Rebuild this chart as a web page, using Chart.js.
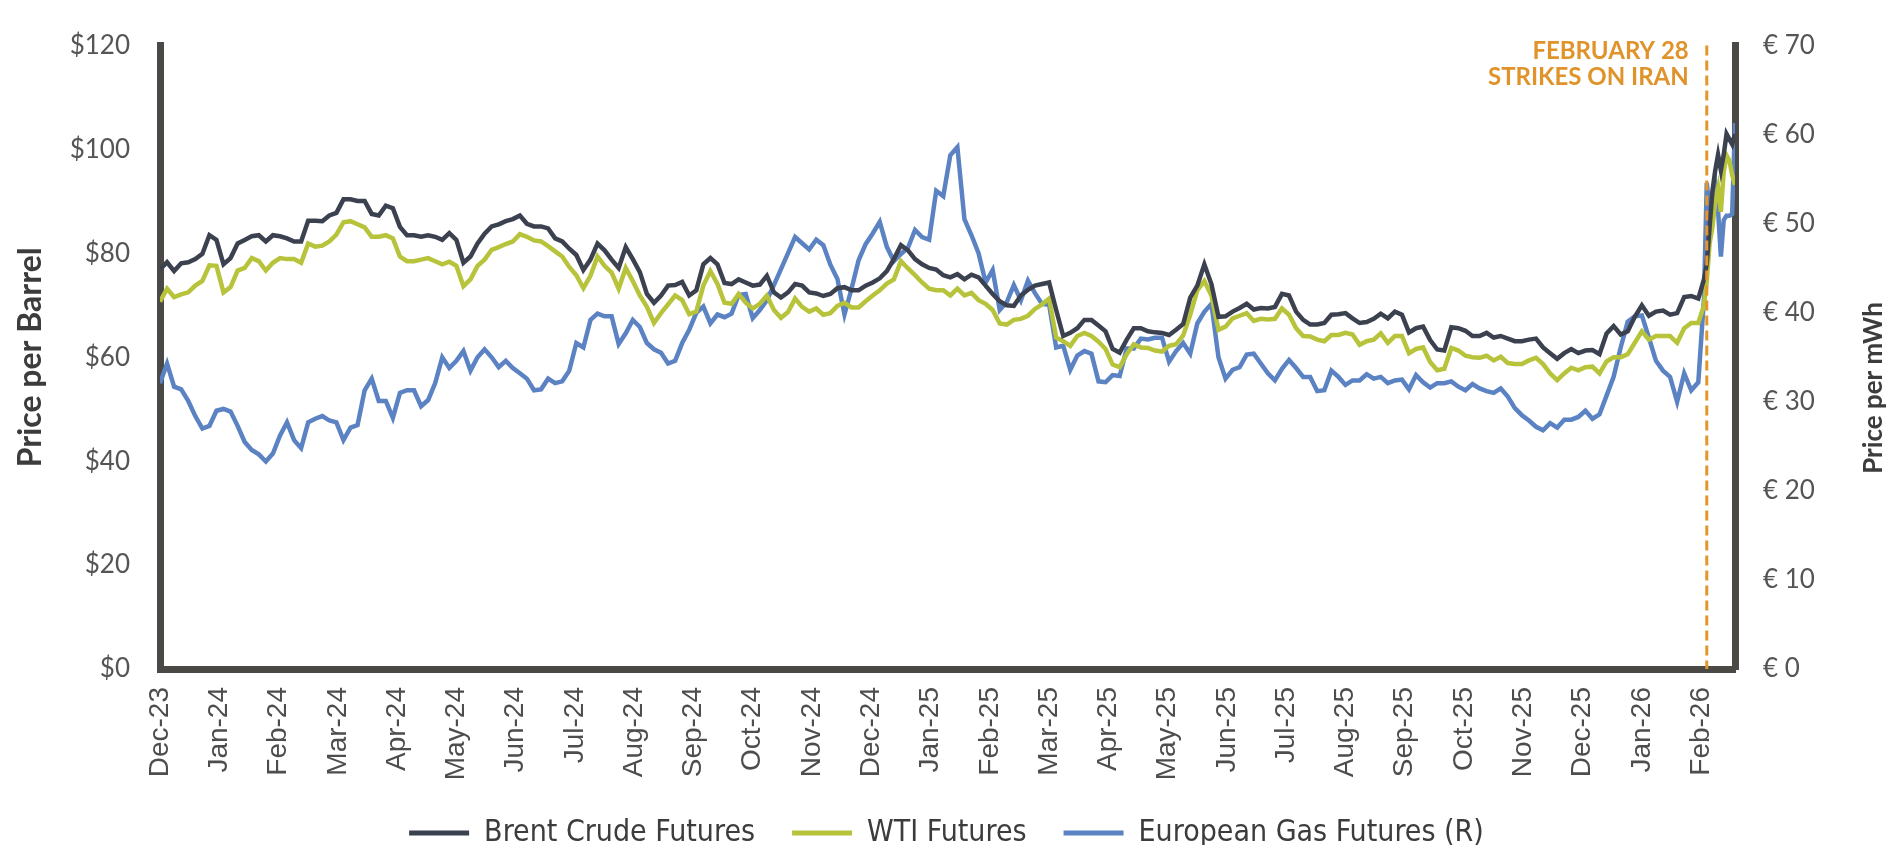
<!DOCTYPE html>
<html>
<head>
<meta charset="utf-8">
<script src="https://cdn.jsdelivr.net/npm/chart.js@4.4.1/dist/chart.umd.min.js"></script>
<style>
  html, body { margin: 0; padding: 0; background: #fff; }
  #wrap { width: 1893px; height: 845px; }
</style>
</head>
<body>
<div id="wrap"><canvas id="energyChart" width="1893" height="845"></canvas></div>
<script>
// x = trading day counted from the first sample (late Dec 2023): half-week samples, then daily at the end
const sampleDays = [];
for (let d = 0; d <= 545; d += 2.5) sampleDays.push(d);
const tailDays = [547, 548, 549, 550, 551, 552, 553, 554, 555, 556, 557, 558];
tailDays.forEach(d => sampleDays.push(d));

// one axis label every 21 trading days
const tickEvery = 21;
const tickLabels = ['Dec-23', 'Jan-24', 'Feb-24', 'Mar-24', 'Apr-24', 'May-24', 'Jun-24', 'Jul-24', 'Aug-24',
  'Sep-24', 'Oct-24', 'Nov-24', 'Dec-24', 'Jan-25', 'Feb-25', 'Mar-25', 'Apr-25', 'May-25', 'Jun-25',
  'Jul-25', 'Aug-25', 'Sep-25', 'Oct-25', 'Nov-25', 'Dec-25', 'Jan-26', 'Feb-26'];

// $ per barrel
const brent = [
  76.9, 78.3, 76.6, 78.1, 78.3, 78.9, 79.9, 83.5, 82.6, 77.9, 79.1, 81.9, 82.6, 83.3, 83.5, 82.3, 83.5, 83.3, 82.9, 82.3,
  82.3, 86.3, 86.3, 86.2, 87.3, 87.8, 90.4, 90.4, 90.1, 90.1, 87.6, 87.3, 89.2, 88.7, 85.1, 83.5, 83.5, 83.2, 83.5, 83.2,
  82.6, 83.9, 82.6, 78.2, 79.4, 81.9, 83.8, 85.2, 85.6, 86.2, 86.6, 87.3, 85.7, 85.2, 85.2, 84.8, 82.9,
  82.3, 80.9, 79.7, 76.8, 78.8, 81.9, 80.6, 78.8, 77.2, 81.2, 78.9, 76.4, 72.2, 70.5, 71.9, 73.8, 73.9, 74.5, 71.9, 72.9,
  77.9, 79.1, 77.9, 74.3, 74.1, 75.0, 74.4, 73.8, 74.0, 75.7, 72.5, 71.5, 72.5, 74.1, 73.8, 72.5, 72.3, 71.8, 72.2, 73.3,
  73.5, 72.9, 72.9, 73.8, 74.4, 75.2, 76.6, 78.9, 81.6, 80.6, 78.9, 77.9, 77.2, 76.9, 75.8, 75.4,
  76.0, 75.0, 75.9, 75.4, 73.8, 72.2, 70.8, 70.0, 69.9, 71.9, 73.0, 73.8, 74.1, 74.4, 69.1, 64.1, 64.7, 65.6, 67.2, 67.2,
  66.1, 65.0, 61.6, 60.9, 63.4, 65.6, 65.6, 65.0, 64.8, 64.7, 64.3, 65.3, 66.4, 71.5, 73.8, 77.9, 74.1, 67.8, 67.9, 68.8,
  69.5, 70.3, 69.2, 69.5, 69.4, 69.7, 72.2, 71.9, 68.8, 67.2, 66.3, 66.3, 66.6, 68.2, 68.3, 68.5,
  67.5, 66.6, 66.8, 67.4, 68.4, 67.5, 68.8, 68.2, 64.8, 65.6, 65.9, 63.3, 61.5, 61.3, 65.8, 65.6, 65.1, 64.1, 64.1, 64.7,
  63.8, 64.1, 63.6, 63.1, 63.1, 63.4, 63.6, 61.9, 60.8, 59.7, 60.8, 61.6, 60.8, 61.3, 61.4, 60.6, 64.6, 66.0, 64.4, 65.0,
  67.8, 70.0, 68.0, 68.8, 69.0, 68.2, 68.5, 71.6, 71.8, 71.3,
  75.0, 78.0, 85.0, 92.0, 96.0, 99.0, 96.0, 99.0, 103.0, 102.0, 101.0, 103.0
];
const wti = [
  70.7, 73.2, 71.6, 72.1, 72.5, 73.8, 74.7, 77.7, 77.6, 72.5, 73.5, 76.7, 77.2, 79.1, 78.5, 76.7, 78.2, 79.1, 78.9, 78.9,
  78.2, 81.9, 81.3, 81.5, 82.3, 83.6, 86.0, 86.2, 85.6, 85.0, 83.2, 83.2, 83.5, 82.9, 79.4, 78.5, 78.5, 78.8, 79.1, 78.5,
  77.9, 78.4, 77.6, 73.7, 75.0, 77.6, 78.8, 80.7, 81.2, 81.8, 82.3, 83.7, 83.2, 82.5, 82.3, 81.4, 80.4,
  79.4, 77.4, 75.8, 73.3, 75.7, 79.4, 77.6, 76.3, 73.2, 77.2, 74.7, 71.9, 69.7, 66.6, 68.5, 70.2, 71.9, 71.0, 68.3, 68.8,
  73.8, 76.6, 74.1, 70.5, 70.3, 72.2, 70.5, 69.4, 70.3, 71.9, 69.1, 67.6, 68.7, 71.3, 69.7, 68.8, 69.4, 68.2, 68.5, 69.9,
  70.5, 69.6, 69.6, 70.8, 71.9, 72.9, 74.2, 75.0, 78.5, 77.1, 75.8, 74.4, 73.2, 72.9, 72.9, 71.9,
  73.2, 71.9, 72.4, 71.0, 70.3, 69.1, 66.5, 66.3, 67.2, 67.4, 68.0, 69.3, 70.2, 71.3, 63.8, 63.1, 62.2, 64.1, 64.7, 64.1,
  63.0, 61.6, 58.6, 58.1, 60.6, 62.5, 61.9, 61.8, 61.3, 61.1, 62.2, 62.5, 64.2, 68.2, 72.9, 74.7, 71.9, 65.3, 65.9, 67.5,
  68.0, 68.5, 67.0, 67.4, 67.3, 67.4, 69.4, 68.2, 65.6, 64.1, 64.0, 63.4, 63.1, 64.3, 64.3, 64.7,
  64.4, 62.4, 63.1, 63.4, 64.6, 62.8, 64.1, 64.1, 60.8, 61.6, 61.9, 59.1, 57.5, 57.8, 61.8, 61.3, 60.3, 60.0, 59.9, 60.3,
  59.4, 60.1, 58.9, 58.7, 58.7, 59.4, 59.9, 58.7, 56.9, 55.6, 56.9, 58.0, 57.5, 58.1, 58.2, 56.9, 59.2, 60.0, 60.0, 60.6,
  62.8, 65.0, 63.4, 64.1, 64.1, 64.1, 62.8, 65.6, 66.6, 66.6,
  70.0, 74.7, 81.9, 85.0, 90.1, 92.6, 88.0, 95.7, 98.9, 97.9, 95.1, 93.2
];
// EUR per MWh (right axis)
const gas = [
  32.1, 34.3, 31.7, 31.4, 30.1, 28.4, 27.0, 27.3, 29.0, 29.2, 28.9, 27.3, 25.5, 24.6, 24.1, 23.3, 24.2, 26.2, 27.7, 25.7,
  24.8, 27.7, 28.1, 28.4, 27.9, 27.7, 25.7, 27.1, 27.4, 31.3, 32.6, 30.1, 30.1, 28.2, 31.0, 31.3, 31.3, 29.5, 30.2, 32.1,
  35.0, 33.8, 34.6, 35.7, 33.5, 35.0, 35.9, 35.0, 33.9, 34.6, 33.8, 33.2, 32.6, 31.3, 31.4, 32.6, 32.1,
  32.3, 33.5, 36.6, 36.1, 39.2, 39.9, 39.6, 39.6, 36.5, 37.7, 39.2, 38.4, 36.6, 35.9, 35.5, 34.3, 34.6, 36.6, 38.1, 40.0,
  40.7, 38.8, 39.8, 39.5, 39.9, 42.0, 42.1, 39.4, 40.3, 41.4, 43.1, 44.9, 46.7, 48.5, 47.8, 47.1, 48.2, 47.6, 45.4, 43.8,
  39.8, 42.7, 45.9, 47.7, 48.9, 50.2, 47.4, 45.8, 46.6, 47.3, 49.3, 48.5, 48.2, 53.7, 53.1, 57.7,
  58.6, 50.5, 48.7, 46.7, 43.4, 44.8, 40.3, 41.2, 43.1, 41.4, 43.6, 42.2, 41.0, 40.9, 36.1, 36.3, 33.6, 35.2, 35.7, 35.4,
  32.3, 32.2, 33.0, 32.9, 36.0, 36.0, 37.1, 37.0, 37.2, 37.2, 34.5, 35.7, 36.6, 35.4, 38.8, 40.1, 41.0, 35.0, 32.6, 33.6,
  33.9, 35.3, 35.4, 34.3, 33.2, 32.4, 33.7, 34.7, 33.8, 32.8, 32.8, 31.2, 31.3, 33.5, 32.8, 31.9,
  32.4, 32.4, 33.1, 32.6, 32.8, 32.1, 32.4, 32.5, 31.4, 33.0, 32.2, 31.6, 32.1, 32.1, 32.3, 31.7, 31.3, 32.0, 31.5, 31.2,
  31.0, 31.5, 30.6, 29.3, 28.5, 27.9, 27.2, 26.8, 27.6, 27.1, 28.0, 28.0, 28.3, 29.0, 28.1, 28.6, 30.7, 32.8, 36.1, 39.0,
  39.6, 39.7, 37.2, 34.6, 33.5, 32.8, 30.0, 33.2, 31.3, 32.2,
  41.6, 54.6, 51.5, 52.9, 54.4, 51.5, 46.3, 50.4, 50.9, 50.9, 51.1, 61.3
];

const eventDay = 548;
const eventLines = ['FEBRUARY 28', 'STRIKES ON IRAN'];

const axisColor = '#4a4945';
const tickColor = '#555555';
const legendPad = 37;

function points(values) {
  return sampleDays.map((d, i) => ({ x: d, y: values[i] }));
}

// dashed event marker, its caption and the right-hand title (read bottom to top)
const extras = {
  id: 'extras',
  afterDatasetsDraw(chart) {
    const { ctx, chartArea, scales } = chart;
    const x = scales.x.getPixelForValue(eventDay);
    ctx.save();
    ctx.strokeStyle = '#e5962a';
    ctx.lineWidth = 3;
    ctx.setLineDash([10, 5]);
    ctx.beginPath();
    ctx.moveTo(x, chartArea.top);
    ctx.lineTo(x, chartArea.bottom);
    ctx.stroke();
    ctx.setLineDash([]);
    ctx.fillStyle = '#e0932a';
    ctx.font = 'bold 24px Lato';
    ctx.textAlign = 'right';
    ctx.textBaseline = 'middle';
    eventLines.forEach((t, i) => ctx.fillText(t, x - 18, 51 + i * 26));

    ctx.translate(1874, 388);
    ctx.rotate(-Math.PI / 2);
    ctx.textAlign = 'center';
    ctx.fillStyle = '#3c3c3c';
    ctx.font = 'bold 26px Lato';
    ctx.fillText('Price per mWh', 0, 0);
    ctx.restore();
  }
};

const lineStyle = { borderWidth: 4.5, pointRadius: 0, tension: 0 };

new Chart(document.getElementById('energyChart'), {
  type: 'line',
  data: {
    datasets: [
      { label: 'Brent Crude Futures', data: points(brent), borderColor: '#3c4150', backgroundColor: '#3c4150', yAxisID: 'y', ...lineStyle },
      { label: 'WTI Futures', data: points(wti), borderColor: '#b7c33a', backgroundColor: '#b7c33a', yAxisID: 'y', ...lineStyle },
      { label: 'European Gas Futures (R)', data: points(gas), borderColor: '#5b82c2', backgroundColor: '#5b82c2', yAxisID: 'y1', ...lineStyle }
    ]
  },
  options: {
    responsive: false,
    animation: false,
    layout: { padding: { top: 31, left: 0, right: 0, bottom: -13 } },
    plugins: {
      tooltip: { enabled: false },
      legend: {
        position: 'bottom',
        labels: {
          boxWidth: 60,
          boxHeight: 5,
          padding: legendPad,
          color: '#3c3c3c',
          font: { family: "'DejaVu Sans Condensed'", size: 30 },
          generateLabels(chart) {
            return Chart.defaults.plugins.legend.labels.generateLabels(chart).map(l => ({ ...l, lineWidth: 0 }));
          }
        }
      }
    },
    scales: {
      x: {
        type: 'linear',
        min: 0,
        max: 558,
        afterBuildTicks(scale) {
          scale.ticks = tickLabels.map((_, i) => ({ value: i * tickEvery }));
        },
        afterFit(scale) { scale.height = 149 - legendPad; },
        grid: { display: false, drawTicks: false },
        border: { display: true, color: axisColor, width: 7 },
        ticks: {
          autoSkip: false,
          maxRotation: 90,
          minRotation: 90,
          padding: 18,
          color: '#4d4d4d',
          font: { family: 'Liberation Sans', size: 28 },
          callback: (v, i) => tickLabels[i]
        }
      },
      y: {
        position: 'left',
        min: 0,
        max: 120,
        afterFit(scale) { scale.width = 160; },
        grid: { display: false, drawTicks: false },
        border: { display: true, color: axisColor, width: 7 },
        ticks: {
          stepSize: 20,
          padding: 30,
          color: tickColor,
          font: { family: 'Lato', size: 26 },
          callback: v => '$' + v
        },
        title: {
          display: true,
          text: 'Price per Barrel',
          color: '#3c3c3c',
          font: { family: 'Lato', size: 32, weight: 'bold' },
          padding: { top: 11, bottom: 0 }
        }
      },
      y1: {
        position: 'right',
        min: 0,
        max: 70,
        afterFit(scale) { scale.width = 158; },
        grid: { display: false, drawTicks: false },
        border: { display: true, color: axisColor, width: 7 },
        ticks: {
          stepSize: 10,
          padding: 28,
          color: tickColor,
          font: { family: 'Lato', size: 26 },
          callback: v => '€ ' + v
        }
      }
    }
  },
  plugins: [extras]
});
</script>
</body>
</html>
